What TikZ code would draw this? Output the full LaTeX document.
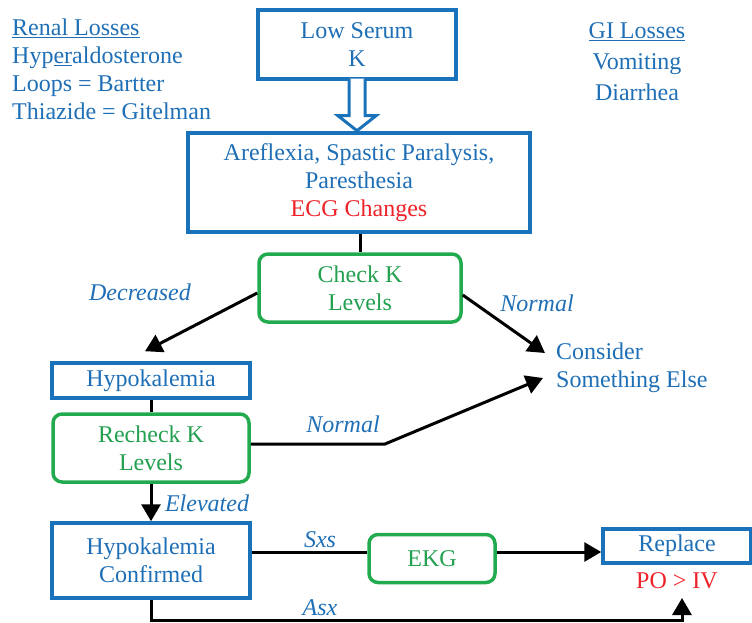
\documentclass[tikz,border=0pt]{standalone}
\usepackage{fontspec}
\setmainfont{Liberation Serif}
\newfontfamily\chartfont{Liberation Serif}
\usetikzlibrary{arrows.meta,calc}

\definecolor{txtblue}{HTML}{1F6FB6}
\definecolor{boxblue}{HTML}{1A72BB}
\definecolor{boxgreen}{HTML}{22AA4E}
\definecolor{txtgreen}{HTML}{23A050}
\definecolor{alertred}{HTML}{EE2229}

\tikzset{
  basefont/.style={font=\chartfont\fontsize{24}{28}\selectfont},
  bluebox/.style={basefont, draw=boxblue, line width=3.5pt, text=txtblue,
    align=center, inner sep=0pt, fill=white},
  greenbox/.style={basefont, draw=boxgreen, line width=3.5pt, text=txtgreen,
    align=center, inner sep=0pt, rounded corners=9pt, fill=white},
  plaintext/.style={basefont, text=txtblue, inner sep=0pt},
  branch/.style={text=txtblue, inner sep=0pt,
    font=\chartfont\fontsize{24}{28}\selectfont\itshape},
  link/.style={draw=black, line width=3pt},
  conn/.style={link, -{Triangle[length=17pt,width=19pt]}},
  hollow/.style={draw=boxblue, line width=3pt, fill=white, line join=miter}
}

\begin{document}
\begin{tikzpicture}[x=1pt,y=-1pt]
\useasboundingbox (0,0) rectangle (752,623);

% side notes
\node[plaintext, anchor=north west, align=left] (renal) at (12,19)
  {\underline{Renal Losses}\\Hyp\underline{er}aldosterone\\Loops = Bartter\\Thiazide = Gitelman};
\node[plaintext, align=center, font=\chartfont\fontsize{24}{31}\selectfont] (gi) at (637,62)
  {\underline{GI Losses}\\Vomiting\\Diarrhea};

% main boxes
\node[bluebox, minimum width=198pt, minimum height=69pt] (low) at (357,44.5)
  {Low Serum\\K};
\node[bluebox, minimum width=342pt, minimum height=99pt] (aref) at (359,182.5)
  {Areflexia, Spastic Paralysis,\\Paresthesia\\\textcolor{alertred}{ECG Changes}};
\node[greenbox, minimum width=202pt, minimum height=68pt] (check) at (360,288)
  {Check K\\Levels};
\node[bluebox, minimum width=198pt, minimum height=35pt] (hypo) at (151,380.5)
  {Hypokalemia};
\node[greenbox, minimum width=196pt, minimum height=68pt] (recheck) at (151,448)
  {Recheck K\\Levels};
\node[bluebox, minimum width=198pt, minimum height=75pt] (conf) at (151,560.5)
  {Hypokalemia\\Confirmed};
\node[greenbox, minimum width=126pt, minimum height=48pt] (ekg) at (432,558.5)
  {EKG};
\node[bluebox, minimum width=148pt, minimum height=34pt] (replace) at (677,546)
  {Replace};
\node[plaintext, text=alertred] (po) at (677,581) {PO > IV};
\node[plaintext, anchor=west, align=left] (consider) at (556,368)
  {Consider\\Something Else};

% branch labels
\node[branch] (lbldec) at (140,292) {Decreased};
\node[branch] (lblnorm1) at (537,303) {Normal};
\node[branch] (lblnorm2) at (343,424) {Normal};
\node[branch] (lblelev) at (207,503) {Elevated};
\node[branch] (lblsxs) at (320,540) {Sxs};
\node[branch] (lblasx) at (320,608) {Asx};

% hollow block arrow from the top box
\draw[hollow, shift={(low.south)}]
  (-8,-2) -- (-8,35) -- (-19,35) -- (0,50) -- (19,35) -- (8,35) -- (8,-2);

% helper points
\coordinate (row) at (0,552);
\coordinate (bottomrow) at (0,620);
\coordinate (potip) at (682,598);
\coordinate (bend) at (385,444);

% connectors
\draw[link] (aref.south -| check.north) -- (check.north);
\draw[conn] ([yshift=-5pt]check.west) -- ($(hypo.north)+(-6,-10)$);
\draw[conn] ([yshift=-7pt]check.east) -- ($(consider.west)+(-11,-15)$);
\draw[link] (hypo.south) -- (recheck.north);
\draw[conn] (recheck.east |- bend) -- (bend) -- ($(consider.west)+(-13,10)$);
\draw[conn] (recheck.south) -- (conf.north);
\draw[link] (conf.east |- row) -- (ekg.west |- row);
\draw[conn] (ekg.east |- row) -- (replace.west |- row);
\draw[conn] (conf.south) -- (conf.south |- bottomrow) -| (potip);
\end{tikzpicture}
\end{document}
